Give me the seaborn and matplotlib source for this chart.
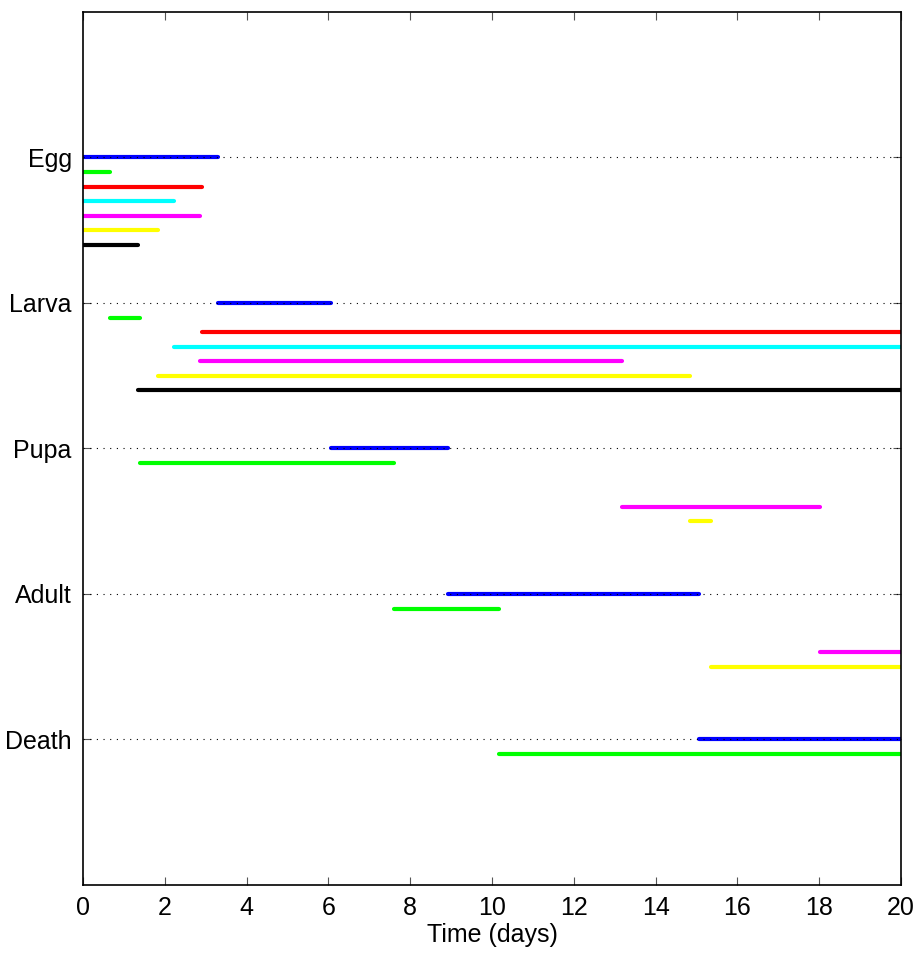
import numpy as np
import pandas as pd
import seaborn as sns
import matplotlib.pyplot as plt
from matplotlib import font_manager

# stages and series data (days)
stages = ["Egg", "Larva", "Pupa", "Adult", "Death"]
colors = ["blue", "lime", "red", "cyan", "magenta", "yellow", "black"]

# transition times for each series (egg->larva, larva->pupa, ...)
blue_times = [0, 3.30, 6.07, 8.93, 15.05, 20]
green_times = [0, 0.66, 1.39, 7.61, 10.16, 20]
red_times = [0, 2.91, 20]
cyan_times = [0, 2.22, 20]
magenta_times = [0, 2.85, 13.19, 18.03, 20]
yellow_times = [0, 1.83, 14.85, 15.35, 20]
black_times = [0, 1.35, 20]

all_times = [blue_times, green_times, red_times, cyan_times,
             magenta_times, yellow_times, black_times]

rows = []
for i, times in enumerate(all_times):
    for s in range(len(times) - 1):
        ypos = (s + 1) + 0.1 * i
        seg = f"{i}_{s}"
        rows.append({"x": times[s], "y": ypos, "seg": seg, "color": colors[i]})
        rows.append({"x": times[s + 1], "y": ypos, "seg": seg, "color": colors[i]})
df = pd.DataFrame(rows)

sns.set_style("ticks")
names = {f.name for f in font_manager.fontManager.ttflist}
fam = "Liberation Sans Narrow" if "Liberation Sans Narrow" in names else "Liberation Sans"
plt.rcParams['font.family'] = [fam, 'DejaVu Sans']
plt.rcParams['text.color'] = 'black'
plt.rcParams['xtick.labelcolor'] = 'black'
plt.rcParams['ytick.labelcolor'] = 'black'

fig = plt.figure(figsize=(9.24, 9.67), dpi=100)
ax = fig.add_axes([0.0898, 0.0848, 0.8853, 0.9028])

sns.lineplot(data=df, x="x", y="y", hue="color", units="seg", estimator=None,
             sort=False, palette={c: c for c in colors}, linewidth=3,
             legend=False, ax=ax)

for k in range(len(stages)):
    ax.plot([0, 20], [k + 1, k + 1], color="black", linestyle=(0, (1, 5)),
            linewidth=0.8, zorder=5)

ax.set_xlim(0, 20)
ax.set_ylim(6, 0)
ax.set_xticks(np.arange(0, 21, 2))
ax.set_yticks(range(1, len(stages) + 1))
ax.set_yticklabels(stages)
ax.tick_params(axis="both", direction="in", length=6, width=0.8, labelsize=18,
               top=True, right=True, color="#555555", pad=8)
ax.set_xlabel("Time (days)", fontsize=18, labelpad=2, color="black")
ax.set_ylabel("")
for sp in ax.spines.values():
    sp.set_linewidth(1.2)
    sp.set_color("black")
    sp.set_visible(True)

fig.savefig("out.png", dpi=100)
